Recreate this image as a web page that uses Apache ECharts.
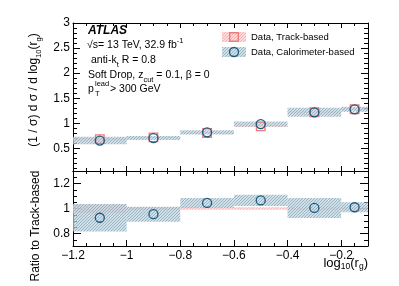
<!DOCTYPE html>
<html><head><meta charset="utf-8">
<script src="https://cdn.jsdelivr.net/npm/echarts@6/dist/echarts.min.js"></script>
<style>html,body{margin:0;padding:0;background:#fff}#c{width:399px;height:286px}</style>
</head><body><div id="c"></div>
<script>
// ---------- data ----------
const binEdges = [-1.2, -1.0, -0.8, -0.6, -0.4, -0.2, -0.1];
const binCenters = [-1.1, -0.9, -0.7, -0.5, -0.3, -0.15];
const trackVals = [0.686, 0.72, 0.806, 0.94, 1.22, 1.28];
const trackErr = [0.024, 0.01, 0.01, 0.012, 0.014, 0.015];
const caloVals = [0.656, 0.706, 0.82, 0.986, 1.22, 1.28];
const caloErr = [0.075, 0.04, 0.04, 0.05, 0.09, 0.05];
const ratioVals = [0.926, 0.955, 1.045, 1.065, 1.005, 1.01];
const ratioErr = [0.11, 0.06, 0.04, 0.045, 0.08, 0.04];
const trackRatioErr = [0.035, 0.012, 0.01, 0.01, 0.01, 0.01];
const xTicks = [-1.2, -1, -0.8, -0.6, -0.4, -0.2];
const topYTicks = [0.5, 1, 1.5, 2, 2.5, 3];
const ratioYTicks = [0.8, 1, 1.2];

// ---------- helpers ----------
function minorList(a, b, step, majors) {
  const out = [];
  const n = Math.round((b - a) / step);
  for (let i = 0; i <= n; i++) {
    const v = Math.round((a + i * step) * 1000) / 1000;
    if (!majors.some(m => Math.abs(m - v) < 1e-6)) out.push(v);
  }
  return out;
}
function hatch(bg, line) {
  const s = 3, c = document.createElement('canvas');
  c.width = s; c.height = s;
  const g = c.getContext('2d');
  g.fillStyle = bg; g.fillRect(0, 0, s, s);
  g.fillStyle = line;
  for (let i = 0; i < s; i++) g.fillRect(i, s - 1 - i, 1, 1);
  return { image: c, repeat: 'repeat' };
}
const blueHatch = hatch('rgba(190,210,221,0.7)', 'rgba(125,160,180,0.65)');
const pinkHatch = hatch('rgba(255,205,205,0.7)', 'rgba(245,150,150,0.6)');
const fmt = v => String(v).replace('-', '\u2212');
const FONT = 'Liberation Sans';

function bands(vals, errs) {
  return vals.map((v, i) => [binEdges[i], binEdges[i + 1], v - errs[i], v + errs[i]]);
}
function ratioBands(errs) {
  return errs.map((e, i) => [binEdges[i], binEdges[i + 1], 1 - e, 1 + e]);
}
function bandSeries(data, xi, yi, fill, z) {
  return {
    type: 'custom', xAxisIndex: xi, yAxisIndex: yi, z: z, silent: true,
    encode: { x: [0, 1], y: [2, 3] },
    data: data,
    renderItem: function (params, api) {
      const p0 = api.coord([api.value(0), api.value(3)]);
      const p1 = api.coord([api.value(1), api.value(2)]);
      return { type: 'rect', shape: { x: p0[0], y: p0[1], width: p1[0] - p0[0], height: p1[1] - p0[1] }, style: { fill: fill } };
    }
  };
}

const xMinor = minorList(-1.2, -0.1, 0.05, xTicks);
const topYMinor = minorList(0.1, 3, 0.1, topYTicks);
const ratioYMinor = minorList(0.7, 1.3, 0.05, ratioYTicks);

function xAx(grid, pos, vals, len, showLine, showLabel) {
  return {
    type: 'value', gridIndex: grid, position: pos, min: -1.2, max: -0.1,
    axisLine: { show: showLine, onZero: false, lineStyle: { color: '#000', width: 1 } },
    axisTick: { show: true, inside: true, length: len, customValues: vals, lineStyle: { color: '#000' } },
    axisLabel: showLabel ? { show: true, customValues: vals, formatter: fmt, color: '#000', fontFamily: FONT, fontSize: 12, margin: 4 } : { show: false },
    splitLine: { show: false }
  };
}
function yAx(grid, pos, min, max, vals, len, showLine, showLabel) {
  return {
    type: 'value', gridIndex: grid, position: pos, min: min, max: max,
    axisLine: { show: showLine, onZero: false, lineStyle: { color: '#000', width: 1 } },
    axisTick: { show: true, inside: true, length: len, customValues: vals, lineStyle: { color: '#000' } },
    axisLabel: showLabel ? { show: true, customValues: vals, formatter: fmt, color: '#000', fontFamily: FONT, fontSize: 12, margin: 3 } : { show: false },
    splitLine: { show: false }
  };
}

const sub = { fontSize: 7.5, lineHeight: 8, verticalAlign: 'bottom', fontFamily: FONT, fill: '#000' };
const sup = { fontSize: 7.5, lineHeight: 8, verticalAlign: 'top', fontFamily: FONT, fill: '#000' };
const sub2 = { fontSize: 8.5, lineHeight: 9, verticalAlign: 'bottom', fontFamily: FONT, fill: '#000' };
function norm(sz) { return { fontSize: sz, lineHeight: 17, fontFamily: FONT, fill: '#000' }; }
function label(x, y, text, sz) {
  return { type: 'text', x: x, y: y, z: 100, style: { text: text, fontFamily: FONT, fontSize: sz, fill: '#000', align: 'left', verticalAlign: 'middle', rich: { n: norm(sz), sub: sub, sup: sup } } };
}
const TXT = 10.5;

const chart = echarts.init(document.getElementById('c'), null, { renderer: 'canvas' });
chart.setOption({
  animation: false,
  grid: [
    { left: 73, top: 23, width: 295, height: 148, outerBoundsMode: 'none' },
    { left: 73, top: 171, width: 295, height: 75, outerBoundsMode: 'none' }
  ],
  xAxis: [
    xAx(0, 'bottom', xTicks, 5, true, false),
    xAx(0, 'bottom', xMinor, 3, false, false),
    xAx(0, 'top', xTicks, 5, true, false),
    xAx(0, 'top', xMinor, 3, false, false),
    xAx(1, 'bottom', xTicks, 6, true, true),
    xAx(1, 'bottom', xMinor, 3, false, false),
    xAx(1, 'top', xTicks, 5, true, false),
    xAx(1, 'top', xMinor, 3, false, false)
  ],
  yAxis: [
    yAx(0, 'left', 0.05, 3, topYTicks, 7, true, true),
    yAx(0, 'left', 0.05, 3, topYMinor, 4, false, false),
    yAx(0, 'right', 0.05, 3, topYTicks, 7, true, false),
    yAx(0, 'right', 0.05, 3, topYMinor, 4, false, false),
    yAx(1, 'left', 0.7, 1.3, ratioYTicks, 8, true, true),
    yAx(1, 'left', 0.7, 1.3, ratioYMinor, 4, false, false),
    yAx(1, 'right', 0.7, 1.3, ratioYTicks, 8, true, false),
    yAx(1, 'right', 0.7, 1.3, ratioYMinor, 4, false, false)
  ],
  series: [
    bandSeries(bands(trackVals, trackErr), 0, 0, pinkHatch, 2),
    bandSeries(bands(caloVals, caloErr), 0, 0, blueHatch, 3),
    {
      type: 'scatter', xAxisIndex: 0, yAxisIndex: 0, z: 5, symbol: 'rect', symbolSize: 8.5,
      itemStyle: { color: 'rgba(0,0,0,0)', borderColor: '#f07a7a', borderWidth: 1.4, opacity: 1 },
      data: binCenters.map((x, i) => [x, trackVals[i]])
    },
    {
      type: 'scatter', xAxisIndex: 0, yAxisIndex: 0, z: 6, symbol: 'circle', symbolSize: 9,
      itemStyle: { color: 'rgba(0,0,0,0)', borderColor: '#1e5a80', borderWidth: 1.3, opacity: 1 },
      data: binCenters.map((x, i) => [x, caloVals[i]])
    },
    bandSeries(ratioBands(trackRatioErr), 4, 4, pinkHatch, 2),
    bandSeries(ratioVals.map((v, i) => [binEdges[i], binEdges[i + 1], v - ratioErr[i], v + ratioErr[i]]), 4, 4, blueHatch, 3),
    {
      type: 'scatter', xAxisIndex: 4, yAxisIndex: 4, z: 6, symbol: 'circle', symbolSize: 9,
      itemStyle: { color: 'rgba(0,0,0,0)', borderColor: '#1e5a80', borderWidth: 1.3, opacity: 1 },
      data: binCenters.map((x, i) => [x, ratioVals[i]])
    }
  ],
  graphic: [
    { type: 'text', x: 88, y: 31, z: 100, style: { text: 'ATLAS', font: 'italic bold 12px ' + FONT, fill: '#000', align: 'left', verticalAlign: 'middle' } },
    label(87, 45, '{n|\u221As= 13 TeV, 32.9 fb}{sup|-1}', TXT),
    label(91, 60, '{n|anti-k}{sub|t}{n| R = 0.8}', TXT),
    label(88, 75, '{n|Soft Drop, z}{sub|cut}{n| = 0.1, \u03B2 = 0}', TXT),
    { type: 'text', x: 88, y: 89, z: 100, style: { text: 'p', fontFamily: FONT, fontSize: TXT, fill: '#000', align: 'left', verticalAlign: 'middle' } },
    { type: 'text', x: 95, y: 84, z: 100, style: { text: 'lead', fontFamily: FONT, fontSize: 7.5, fill: '#000', align: 'left', verticalAlign: 'middle' } },
    { type: 'text', x: 95, y: 94, z: 100, style: { text: 'T', fontFamily: FONT, fontSize: 7.5, fill: '#000', align: 'left', verticalAlign: 'middle' } },
    { type: 'text', x: 110, y: 89, z: 100, style: { text: '> 300 GeV', fontFamily: FONT, fontSize: TXT, fill: '#000', align: 'left', verticalAlign: 'middle' } },
    // legend
    { type: 'rect', z: 100, shape: { x: 222, y: 32, width: 24, height: 10 }, style: { fill: pinkHatch } },
    { type: 'rect', z: 101, shape: { x: 229.75, y: 32.75, width: 8.5, height: 8.5 }, style: { fill: 'rgba(0,0,0,0)', stroke: '#f07a7a', lineWidth: 1.4 } },
    { type: 'text', x: 251, y: 37, z: 100, style: { text: 'Data, Track-based', fontFamily: FONT, fontSize: 9.5, fill: '#000', align: 'left', verticalAlign: 'middle' } },
    { type: 'rect', z: 100, shape: { x: 222, y: 47, width: 24, height: 10 }, style: { fill: blueHatch } },
    { type: 'circle', z: 101, shape: { cx: 234, cy: 52, r: 4.5 }, style: { fill: 'rgba(0,0,0,0)', stroke: '#1e5a80', lineWidth: 1.3 } },
    { type: 'text', x: 251, y: 52, z: 100, style: { text: 'Data, Calorimeter-based', fontFamily: FONT, fontSize: 9.5, fill: '#000', align: 'left', verticalAlign: 'middle' } },
    // axis titles
    { type: 'text', x: 34, y: 90, rotation: Math.PI / 2, z: 100, style: { text: '{n|(1 / \u03C3) d \u03C3 / d log}{sub|10}{n|(r}{sub|g}{n|)}', align: 'center', verticalAlign: 'middle', rich: { n: norm(12), sub: sub } } },
    { type: 'text', x: 36, y: 226, rotation: Math.PI / 2, z: 100, style: { text: 'Ratio to Track-based', fontFamily: FONT, fontSize: 12, fill: '#000', align: 'center', verticalAlign: 'middle' } },
    { type: 'text', x: 368, y: 263, z: 100, style: { text: '{n|log}{sub|10}{n|(r}{sub|g}{n|)}', align: 'right', verticalAlign: 'middle', rich: { n: norm(13), sub: sub2 } } }
  ]
});
</script></body></html>
